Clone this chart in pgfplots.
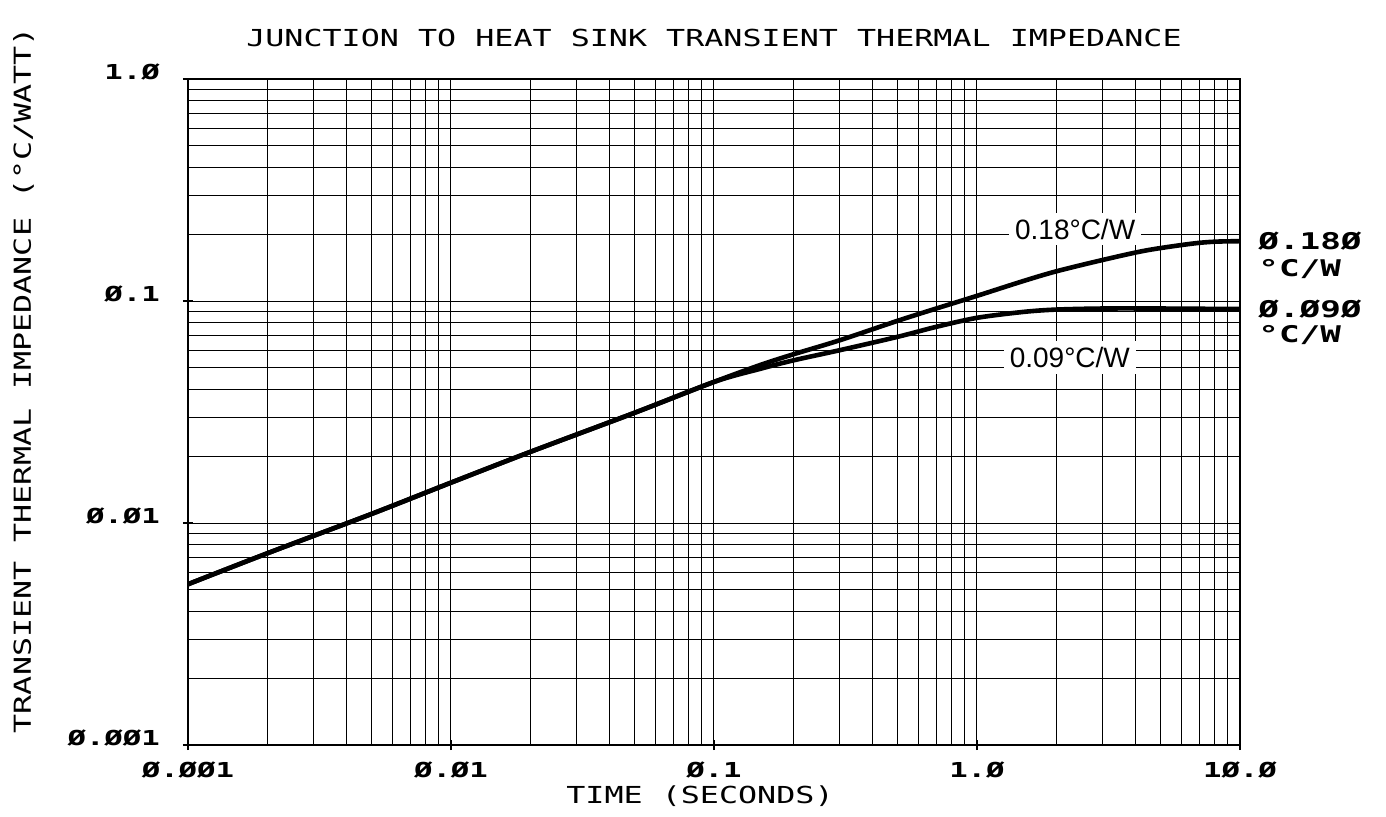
\documentclass[border=0pt]{standalone}
\usepackage{pgfplots}
\pgfplotsset{compat=1.18}
\usepackage{fontspec}
\newfontfamily\plotfont[FakeStretch=1.355]{DejaVu Sans Mono}
\newfontfamily\tickfont[FakeStretch=1.49]{DejaVu Sans Mono}
\newfontfamily\helv{Liberation Sans}
\begin{document}
\begin{tikzpicture}
\path[use as bounding box] (-94pt,-35.5pt) rectangle (599pt,372.5pt);
\begin{axis}[
 name=ax, at={(0,0)}, anchor=south west,
 scale only axis, width=526pt, height=333pt,
 xmode=log, ymode=log,
 xmin=0.001, xmax=10, ymin=0.001, ymax=1,
 xtick={0.001,0.01,0.1,1,10},
 xticklabels={Ø.ØØ1,Ø.Ø1,Ø.1,1.Ø,1Ø.Ø},
 ytick={0.001,0.01,0.1,1},
 yticklabels={Ø.ØØ1,Ø.Ø1,Ø.1,1.Ø},
 grid=both,
 major grid style={black, line width=0.5pt},
 minor grid style={black, line width=0.5pt},
 axis line style={black, line width=1.3pt},
 tick style={black, line width=1pt},
 major tick length=5pt, minor tick length=0pt,
 tick align=center, tick pos=left,
 ticklabel style={font=\tickfont\bfseries\fontsize{10.3pt}{12pt}\selectfont},
 xticklabel style={anchor=base, yshift=-13.5pt},
 yticklabel style={anchor=base east, xshift=-8pt},
 clip=false,
]
% shared part + upper curve (0.18 C/W)
\addplot[black, line width=2.3pt, smooth] coordinates {
 (0.001,0.0053) (0.002,0.0073) (0.005,0.0110) (0.01,0.0152) (0.02,0.0209)
 (0.05,0.0314) (0.1,0.0432) (0.15,0.0515) (0.2,0.0575) (0.3,0.0665)
 (0.5,0.0815) (0.7,0.0925) (1.0,0.1055) (1.5,0.123) (2,0.136) (3,0.153)
 (4.4,0.169) (6.5,0.181) (8,0.185) (10,0.186)
};
% lower curve (0.09 C/W)
\addplot[black, line width=2.3pt, smooth] coordinates {
 (0.001,0.0053) (0.002,0.0073) (0.005,0.0110) (0.01,0.0152) (0.02,0.0209)
 (0.05,0.0314) (0.1,0.0432) (0.15,0.0495) (0.2,0.0540) (0.3,0.0600)
 (0.5,0.0690) (0.7,0.0765) (1.0,0.0840) (1.5,0.0893) (2,0.0915) (3,0.0925)
 (5,0.0925) (10,0.092)
};
\node[fill=white, inner sep=3pt, anchor=west, font=\helv\fontsize{14pt}{16pt}\selectfont] at (axis cs:1.32,0.211) {0.18°C/W};
\node[fill=white, inner sep=3pt, anchor=west, font=\helv\fontsize{14pt}{16pt}\selectfont] at (axis cs:1.26,0.0557) {0.09°C/W};
\node[anchor=west, inner sep=0pt, font=\tickfont\bfseries\fontsize{11.5pt}{13pt}\selectfont] at ([xshift=9pt]axis cs:10,0.186) {Ø.18Ø};
\node[anchor=west, inner sep=0pt, font=\tickfont\bfseries\fontsize{11.5pt}{13pt}\selectfont] at ([xshift=9pt, yshift=-14pt]axis cs:10,0.186) {°C/W};
\node[anchor=west, inner sep=0pt, font=\tickfont\bfseries\fontsize{11.5pt}{13pt}\selectfont] at ([xshift=9pt]axis cs:10,0.092) {Ø.Ø9Ø};
\node[anchor=west, inner sep=0pt, font=\tickfont\bfseries\fontsize{11.5pt}{13pt}\selectfont] at ([xshift=9pt, yshift=-13pt]axis cs:10,0.092) {°C/W};
\node[anchor=base, inner sep=0pt, font=\plotfont\fontsize{11.7pt}{14pt}\selectfont] at ([yshift=16.25pt]rel axis cs:0.5,1) {JUNCTION TO HEAT SINK TRANSIENT THERMAL IMPEDANCE};
\node[anchor=base, inner sep=0pt, font=\plotfont\fontsize{11.7pt}{14pt}\selectfont] at ([yshift=-29pt]rel axis cs:0.4867,0) {TIME (SECONDS)};
\node[anchor=base, inner sep=0pt, rotate=90, font=\plotfont\fontsize{11.7pt}{14pt}\selectfont] at ([xshift=-78.5pt]rel axis cs:0,0.548) {TRANSIENT THERMAL IMPEDANCE (°C/WATT)};
\end{axis}
\end{tikzpicture}
\end{document}
